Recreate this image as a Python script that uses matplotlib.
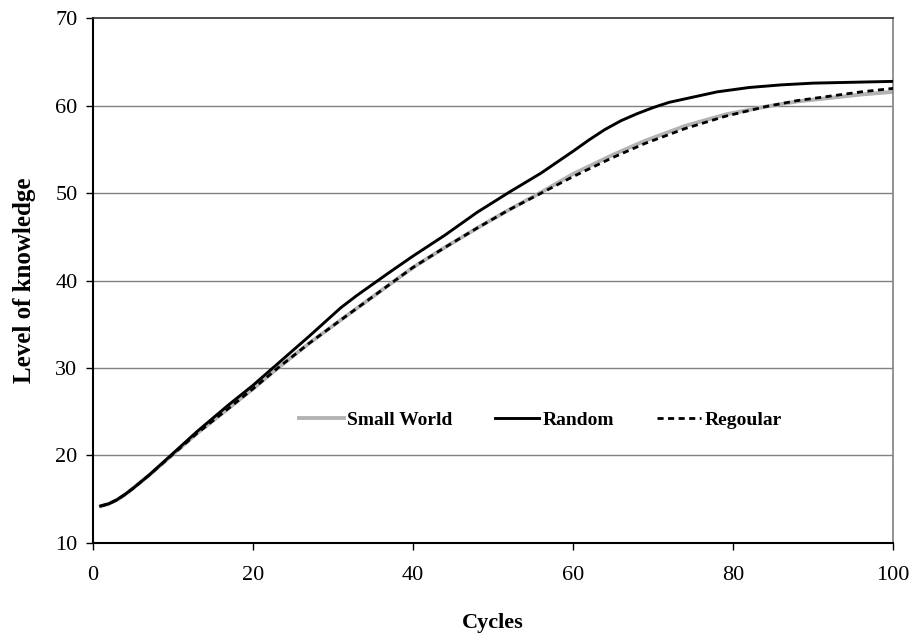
import matplotlib
matplotlib.use("Agg")
import matplotlib.pyplot as plt

# values
cycles_random = [1, 2, 3, 4, 5, 7, 10, 13, 17, 20, 23, 27, 31, 33, 35, 37, 40, 44, 48,
                 52, 56, 60, 62, 64, 66, 68, 70, 72, 75, 78, 82, 86, 90, 95, 100]
random_vals = [14.2, 14.45, 14.9, 15.5, 16.2, 17.7, 20.2, 22.7, 25.8, 28.0, 30.4, 33.6,
               36.9, 38.3, 39.6, 40.9, 42.8, 45.2, 47.8, 50.1, 52.3, 54.8, 56.1, 57.3,
               58.3, 59.1, 59.8, 60.4, 61.0, 61.6, 62.1, 62.4, 62.6, 62.7, 62.8]

cycles_reg = [1, 2, 3, 4, 5, 7, 10, 13, 17, 20, 23, 27, 31, 34, 37, 40, 44, 48,
              52, 56, 60, 65, 69, 74, 79, 84, 88, 92, 96, 100]
regoular_vals = [14.2, 14.45, 14.9, 15.5, 16.2, 17.7, 20.1, 22.5, 25.4, 27.6, 29.9, 32.8,
                 35.5, 37.5, 39.5, 41.5, 43.8, 46.0, 48.1, 50.0, 51.9, 54.1, 55.7,
                 57.4, 58.8, 59.9, 60.6, 61.1, 61.6, 62.0]
small_world_vals = [14.2, 14.45, 14.9, 15.5, 16.2, 17.7, 20.1, 22.5, 25.4, 27.6, 29.9, 32.8,
                    35.5, 37.5, 39.5, 41.5, 43.8, 46.0, 48.1, 50.1, 52.2, 54.4, 56.0,
                    57.7, 59.0, 59.9, 60.5, 60.9, 61.3, 61.6]

yticks = [10, 20, 30, 40, 50, 60, 70]
xticks = [0, 20, 40, 60, 80, 100]

plt.rcParams['font.family'] = ['Liberation Serif', 'DejaVu Serif']

fig = plt.figure(figsize=(9.18, 6.37), dpi=100)
ax = fig.add_axes([0.101, 0.148, 0.872, 0.823])

for y in yticks[1:-1]:
    ax.axhline(y, color='#808080', linewidth=1.0, zorder=1)

ax.plot(cycles_reg, small_world_vals, color='#b3b3b3', linewidth=2.8,
        label='Small World', zorder=2)
ax.plot(cycles_random, random_vals, color='black', linewidth=2.1,
        label='Random', zorder=3)
ax.plot(cycles_reg, regoular_vals, color='black', linewidth=2.0,
        dashes=(2.2, 1.6), label='Regoular', zorder=4)

ax.set_xlim(0, 100)
ax.set_ylim(10, 70)
ax.set_xticks(xticks)
ax.set_yticks(yticks)
ax.tick_params(axis='both', direction='out', length=5, width=1, labelsize=16,
               pad=6, color='black')
ax.tick_params(axis='x', pad=12)

ax.spines['left'].set_linewidth(1.5)
ax.spines['bottom'].set_linewidth(1.5)
ax.spines['top'].set_color('#303030')
ax.spines['top'].set_linewidth(1.2)
ax.spines['right'].set_color('#808080')
ax.spines['right'].set_linewidth(1.2)

ax.set_xlabel('Cycles', fontsize=16, fontweight='bold', labelpad=20)
ax.set_ylabel('Level of knowledge', fontsize=18, fontweight='bold', labelpad=14)

leg = ax.legend(loc='center', bbox_to_anchor=(0.559, 0.234), ncol=3,
                frameon=False, prop={'size': 14, 'weight': 'bold'},
                handlelength=2.3, handletextpad=0.15, columnspacing=2.2)

fig.savefig('out.png', dpi=100)
